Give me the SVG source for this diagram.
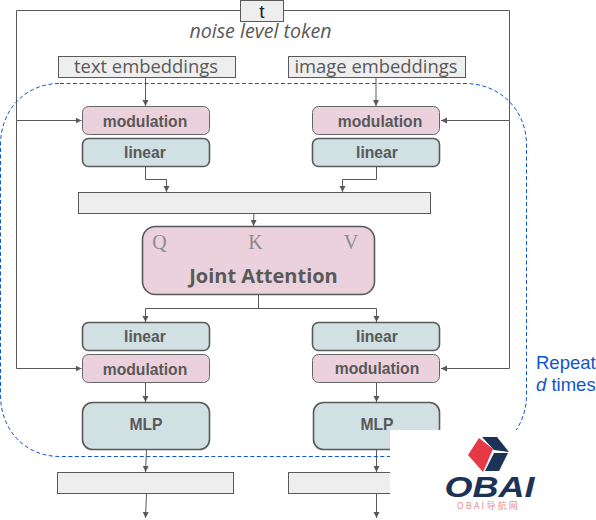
<svg xmlns="http://www.w3.org/2000/svg" width="596" height="520" viewBox="0 0 596 520">
<style>
.c{fill:none;stroke:#595959;stroke-width:1}
.g{fill:#eeeeee;stroke:#595959;stroke-width:1}
.p{fill:#ead1dc;stroke:#666666;stroke-width:1}
.b{fill:#d0e0e3;stroke:#595959;stroke-width:1.6}
.t{font-family:"Open Sans","Noto Sans",sans-serif;fill:#595959;text-anchor:middle}
.h{font-family:"Liberation Sans",Arial,sans-serif;font-weight:bold;font-size:15.700px;fill:#595959;text-anchor:middle}
.m{font-family:"Liberation Serif",serif;font-size:20px;fill:#8c8c8c;text-anchor:middle}
.r{font-family:"Liberation Sans",Arial,sans-serif;font-size:18.500px;fill:#1155cc}
</style>
<defs>
<marker id="a" markerUnits="userSpaceOnUse" markerWidth="8" markerHeight="8" refX="6" refY="3" orient="auto"><path d="M0 0L6 3L0 6z" fill="#595959"/></marker>
</defs>
<g id="connectors">
<path class="c" d="M240 10.500H16.500V120.500H81.500" marker-end="url(#a)"/>
<path class="c" d="M284 10.500H509.500V120.500H441" marker-end="url(#a)"/>
<path class="c" d="M16.500 120.500V368.500H81.500" marker-end="url(#a)"/>
<path class="c" d="M509.500 120.500V368.500H441" marker-end="url(#a)"/>
<path class="c" d="M145.500 78V106" marker-end="url(#a)"/>
<path class="c" d="M376 76V106" marker-end="url(#a)"/>
<path class="c" d="M145.500 167V179.500H166.500V192" marker-end="url(#a)"/>
<path class="c" d="M376.500 167V179.500H342.500V192" marker-end="url(#a)"/>
<path class="c" d="M254.500 193L253.500 226" marker-end="url(#a)"/>
<path class="c" d="M258.500 295V308.500H145.500V322" marker-end="url(#a)"/>
<path class="c" d="M258.500 308.500H376.500V322" marker-end="url(#a)"/>
<path class="c" d="M145.500 382V402" marker-end="url(#a)"/>
<path class="c" d="M376.500 382V402" marker-end="url(#a)"/>
<path class="c" d="M146.500 450L145.500 472" marker-end="url(#a)"/>
<path class="c" d="M376.500 450V472" marker-end="url(#a)"/>
<path class="c" d="M146.500 494L145.500 518" marker-end="url(#a)"/>
<path class="c" d="M376.500 494V518" marker-end="url(#a)"/>
</g>
<g id="repeat-loop"><path d="M60 83.500H465C500 83.500 526.500 110 526.500 145V395C526.500 430 500 456.500 465 456.500H60C25 456.500 .5 430 .5 395V145C.5 110 25 83.500 60 83.500Z" fill="none" stroke="#1155cc" stroke-width="1" stroke-dasharray="4 2.500"/></g>
<g id="t"><rect class="g" x="240.500" y="0.500" width="43" height="21"/><text x="262" y="17.500" font-family="'Liberation Sans',sans-serif" font-size="19" fill="#222222" text-anchor="middle">t</text></g>
<g id="noise-label"><text class="t" x="260.500" y="37.500" font-size="19.600" font-style="italic">noise level token</text></g>
<g id="text-embeddings"><rect class="g" x="58.500" y="56.500" width="177" height="21"/><text class="t" x="146" y="73" font-size="18.400">text embeddings</text></g>
<g id="image-embeddings"><rect class="g" x="288.500" y="56.500" width="177" height="21"/><text class="t" x="376" y="72.500" font-size="18.400">image embeddings</text></g>
<g id="mod-tl"><rect class="p" x="82.500" y="106.500" width="127" height="28" rx="6"/><text class="h" x="145" y="127">modulation</text></g>
<g id="linear-tl"><rect class="b" x="82.500" y="138.500" width="127" height="28" rx="6"/><text class="h" x="145" y="158">linear</text></g>
<g id="mod-tr"><rect class="p" x="312.500" y="106.500" width="127" height="28" rx="6"/><text class="h" x="380" y="127">modulation</text></g>
<g id="linear-tr"><rect class="b" x="312.500" y="138.500" width="127" height="28" rx="6"/><text class="h" x="377" y="158">linear</text></g>
<g id="concat"><rect class="g" x="78.500" y="192.500" width="352" height="21"/></g>
<g id="joint-attention"><rect class="b" style="fill:#ead1dc" x="142.500" y="226.500" width="232" height="68" rx="13"/>
<text class="m" x="159.500" y="249">Q</text><text class="m" x="255.500" y="249">K</text><text class="m" x="351" y="249">V</text>
<text x="263.500" y="283" font-family="'Open Sans',sans-serif" font-weight="bold" font-size="20" fill="#595959" text-anchor="middle">Joint Attention</text></g>
<g id="linear-bl"><rect class="b" x="82.500" y="322.500" width="127" height="28" rx="6"/><text class="h" x="145" y="342">linear</text></g>
<g id="mod-bl"><rect class="p" x="82.500" y="354.500" width="127" height="28" rx="6"/><text class="h" x="145" y="375">modulation</text></g>
<g id="linear-br"><rect class="b" x="312.500" y="322.500" width="127" height="28" rx="6"/><text class="h" x="377" y="342">linear</text></g>
<g id="mod-br"><rect class="p" x="312.500" y="354.500" width="127" height="28" rx="6"/><text class="h" x="377" y="374">modulation</text></g>
<g id="mlp-l"><rect class="b" x="82.500" y="402.500" width="127" height="47" rx="10"/><text class="h" x="146" y="430">MLP</text></g>
<g id="mlp-r"><rect class="b" x="313.500" y="402.500" width="126" height="47" rx="10"/><text class="h" x="377" y="430">MLP</text></g>
<g id="out-l"><rect class="g" x="57.500" y="472.500" width="176" height="21"/></g>
<g id="out-r"><rect class="g" x="288.500" y="472.500" width="176" height="21"/></g>
<g id="repeat-label"><text class="r" x="536" y="369">Repeat</text><text class="r" x="536" y="391"><tspan font-style="italic">d</tspan> times</text></g>
<g id="watermark"><rect x="390" y="430" width="206" height="90" fill="#ffffff"/>
<path d="M468 455L479 438L493 449L483 472Z" fill="#e63946"/>
<path d="M482 437H497L509 452L494 450ZM494 453H508L499 471H485Z" fill="#1b3358"/>
<text x="489.500" y="497" font-family="'Liberation Sans',sans-serif" font-weight="bold" font-style="italic" font-size="29" fill="#1b3358" text-anchor="middle" textLength="90" lengthAdjust="spacingAndGlyphs">OBAI</text>
<text x="488.500" y="508.500" font-family="'Noto Sans CJK SC',sans-serif" font-size="9" fill="#e8909a" text-anchor="middle" letter-spacing="2.200">OBAI导航网</text></g>
</svg>
